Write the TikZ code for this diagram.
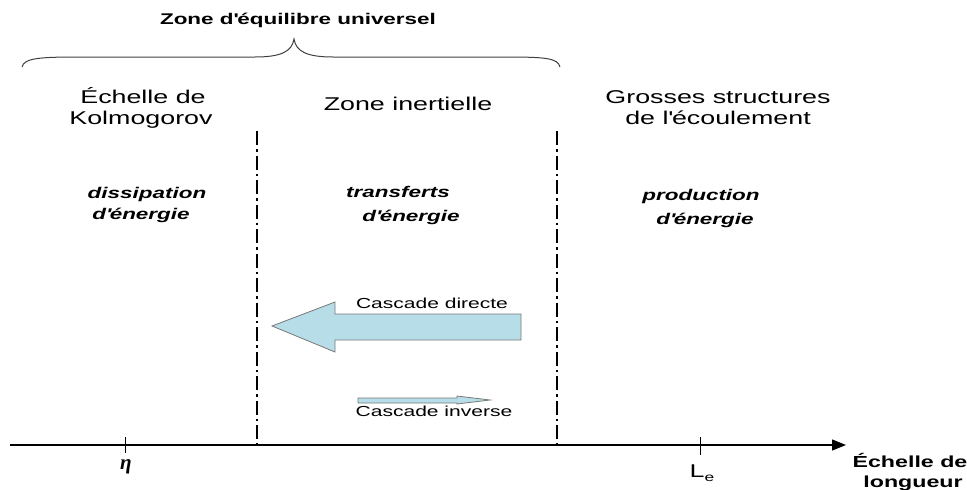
\documentclass[tikz,border=0pt]{standalone}
\usepackage{fontspec}
\setmainfont{Liberation Sans}[FakeStretch=1.45]
\newfontfamily\etafont{Liberation Serif}
\usetikzlibrary{arrows.meta}
\definecolor{cascfill}{RGB}{183,222,232}
\definecolor{cascline}{RGB}{120,120,120}
\newcommand{\apo}{\textquotesingle}
\begin{document}
\begin{tikzpicture}[x=1pt,y=-1pt,
  hdr/.style={font=\fontsize{18.5}{19}\selectfont, anchor=base, inner sep=0pt},
  ttl/.style={font=\fontsize{15.5}{17}\selectfont\bfseries, anchor=base, inner sep=0pt},
  role/.style={font=\fontsize{15.5}{16}\selectfont\bfseries\itshape, anchor=base, inner sep=0pt},
  casc/.style={font=\fontsize{14.5}{15}\selectfont, anchor=base, inner sep=0pt},
  zoneline/.style={line width=2.2pt, dash pattern=on 14pt off 4pt on 2.5pt off 4pt},
  axisline/.style={line width=1.3pt, -{Triangle[length=14pt,width=11pt]}},
  tickline/.style={line width=0.8pt},
  bigarrow/.style={fill=cascfill, draw=cascline, line width=0.8pt},
  bracestyle/.style={draw=black!75, line width=1pt}
]
\useasboundingbox (0,0) rectangle (967,490);

% title and brace
\node[ttl] (title) at (298,24) {Zone d\apo équilibre universel};
\coordinate (bl) at (22,67);
\coordinate (bt) at (294,39);
\coordinate (br) at (560,67);
\draw[bracestyle] (bl) .. controls (24,58) and (40,57) .. (80,57) -- (255,57)
  .. controls (280,57) and (292,52) .. (bt)
  .. controls (296,52) and (308,57) .. (333,57) -- (505,57)
  .. controls (545,57) and (558,58) .. (br);

% headers
\node[hdr] (k1) at (143,103) {Échelle de};
\node[hdr] (k2) at (141,124) {Kolmogorov};
\node[hdr] (zi) at (408,110) {Zone inertielle};
\node[hdr] (g1) at (718,103) {Grosses structures};
\node[hdr] (g2) at (718,124) {de l\apo écoulement};

% roles
\node[role] (d1) at (147,198) {dissipation};
\node[role] (d2) at (141,219) {d\apo énergie};
\node[role] (t1) at (398,197) {transferts};
\node[role] (t2) at (411,221) {d\apo énergie};
\node[role] (p1) at (701,200) {production};
\node[role] (p2) at (705,224) {d\apo énergie};

% zone boundaries
\coordinate (z1t) at (257,131);
\coordinate (z1b) at (257,445);
\coordinate (z2t) at (557,131);
\coordinate (z2b) at (557,445);
\draw[zoneline] (z1t) -- (z1b);
\draw[zoneline] (z2t) -- (z2b);

% axis
\coordinate (ax0) at (10,445);
\coordinate (ax1) at (846,445);
\draw[axisline] (ax0) -- (ax1);
\coordinate (eta0) at (125,437);
\coordinate (eta1) at (125,453);
\draw[tickline] (eta0) -- (eta1);
\coordinate (le0) at (700,437);
\coordinate (le1) at (700,455);
\draw[tickline] (le0) -- (le1);
\node[inner sep=0pt, font=\fontsize{21}{21}\etafont\bfseries\itshape] (etalabel) at (126,467) {η};
\node[inner sep=0pt, anchor=base, font=\fontsize{18.5}{18}\selectfont] (lelabel) at (702,477) {L\raisebox{-4pt}{\fontsize{12}{12}\selectfont e}};
\node[ttl, font=\fontsize{16}{16}\selectfont\bfseries] (x1) at (910,467) {Échelle de};
\node[ttl, font=\fontsize{16}{16}\selectfont\bfseries] (x2) at (913,487) {longueur};

% cascades
\draw[bigarrow] (521,314) -- (335,314) -- (335,302) -- (272,326) -- (335,352) -- (335,340) -- (521,340) -- cycle;
\node[casc] (cd) at (432,308) {Cascade directe};
\draw[bigarrow] (358,398) -- (457,398) -- (457,396) -- (490,400) -- (457,404) -- (457,403) -- (358,403) -- cycle;
\node[casc] (ci) at (434,416) {Cascade inverse};
\end{tikzpicture}
\end{document}
